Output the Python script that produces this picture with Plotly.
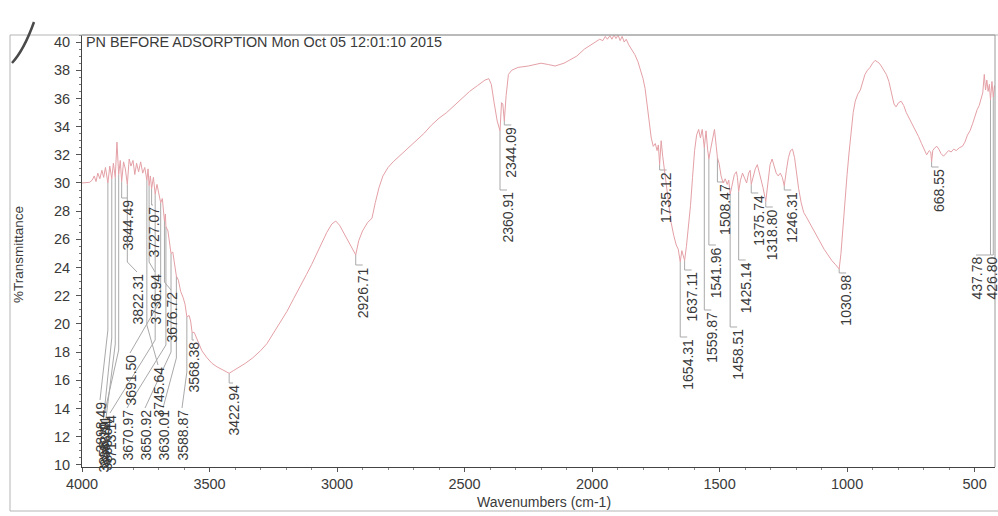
import numpy as np
import plotly.graph_objects as go

# ---- spectrum (wavenumber in cm-1, %T) ----
wavenumber = [
    4000, 3985, 3970, 3960, 3952, 3945, 3938, 3930, 3922, 3915, 3908, 3898.49, 3891, 3883.21, 3877,
    3869.64, 3863, 3856.10, 3850, 3844.49, 3837, 3830, 3822.31, 3815, 3808, 3800, 3793, 3786, 3778,
    3770, 3762, 3754, 3745.64, 3741, 3736.94, 3732, 3727.07, 3720, 3713.14, 3706, 3698, 3691.50, 3685,
    3676.72, 3673, 3670.97, 3663, 3657, 3650.92, 3644, 3636, 3630.01, 3622, 3613, 3604, 3596, 3588.87,
    3580, 3574, 3568.38, 3560, 3545, 3530, 3510, 3490, 3470, 3450, 3435, 3422.94, 3405, 3385, 3360,
    3330, 3300, 3275, 3250, 3225, 3196, 3170, 3145, 3120, 3100, 3080, 3060, 3040, 3020, 3005, 2990,
    2970, 2950, 2935, 2926.71, 2915, 2900, 2880, 2863, 2850, 2835, 2820, 2800, 2780, 2750, 2720, 2690,
    2660, 2630, 2600, 2570, 2540, 2510, 2480, 2450, 2420, 2405, 2395, 2385, 2372, 2360.91, 2355, 2350,
    2344.09, 2337, 2328, 2315, 2290, 2250, 2200, 2170, 2145, 2110, 2080, 2060, 2030, 2005, 1985, 1970,
    1958, 1948, 1940, 1930, 1922, 1914, 1906, 1898, 1890, 1882, 1874, 1866, 1856, 1845, 1832, 1820,
    1810, 1800, 1792, 1784, 1776, 1768, 1760, 1752, 1745, 1740, 1735.12, 1729, 1723, 1716, 1708, 1700,
    1690, 1680, 1670, 1662, 1654.31, 1648, 1642, 1637.11, 1630, 1622, 1614, 1606, 1598, 1590, 1582,
    1575, 1568, 1559.87, 1553, 1547, 1541.96, 1535, 1528, 1520, 1513, 1508.47, 1502, 1494, 1486, 1478,
    1470, 1464, 1458.51, 1450, 1442, 1434, 1430, 1425.14, 1418, 1410, 1402, 1394, 1386, 1380, 1375.74,
    1368, 1360, 1352, 1345, 1338, 1330, 1318.80, 1310, 1302, 1294, 1286, 1278, 1270, 1262, 1254,
    1246.31, 1238, 1230, 1222, 1214, 1206, 1198, 1190, 1180, 1170, 1160, 1148, 1135, 1120, 1105, 1090,
    1075, 1060, 1045, 1036, 1030.98, 1024, 1016, 1008, 1000, 992, 984, 976, 968, 958, 948, 940, 930,
    920, 910, 900, 890, 882, 874, 866, 856, 846, 836, 826, 816, 808, 798, 788, 778, 768, 756, 744, 732,
    720, 708, 698, 688, 678, 672, 668.55, 664, 656, 648, 640, 632, 622, 612, 602, 592, 582, 572, 560,
    548, 538, 528, 518, 508, 498, 490, 482, 474, 468, 462, 457, 452, 447, 442, 437.78, 432, 426.80,
    422, 420,
]
transmittance = [
    30.0, 30.0, 30.05, 30.2, 30.5, 30.1, 30.7, 30.3, 30.9, 30.4, 31.1, 30.0, 31.2, 30.3, 31.4,
    30.4, 32.9, 30.6, 31.6, 30.1, 31.5, 31.0, 29.9, 31.7, 31.2, 31.6, 30.6, 31.4, 30.8,
    31.5, 30.7, 31.1, 30.2, 31.0, 29.8, 30.5, 29.6, 30.4, 29.2, 29.9, 29.3, 28.6, 28.9,
    27.3, 27.8, 26.9, 26.6, 25.9, 25.0, 25.1, 24.2, 23.4, 23.1, 22.3, 21.9, 21.4, 20.5,
    20.6, 20.2, 19.4, 19.4, 18.7, 18.1, 17.6, 17.2, 16.95, 16.75, 16.6, 16.5, 16.7, 16.9, 17.2,
    17.6, 18.1, 18.6, 19.3, 20.0, 20.9, 21.8, 22.7, 23.5, 24.2, 25.0, 25.8, 26.5, 27.1, 27.3, 27.0,
    26.3, 25.6, 25.1, 24.9, 25.9, 26.6, 27.2, 27.5, 28.6, 29.7, 30.5, 31.1, 31.5, 32.0, 32.5, 33.0,
    33.5, 34.1, 34.6, 35.0, 35.5, 36.0, 36.5, 36.9, 37.3, 37.4, 37.0, 35.8, 34.4, 33.7, 35.7, 35.6,
    34.4, 36.2, 37.7, 38.0, 38.2, 38.3, 38.5, 38.4, 38.3, 38.5, 38.8, 39.0, 39.5, 39.8, 40.0, 40.2,
    40.1, 40.4, 40.2, 40.45, 40.2, 40.5, 40.25, 40.5, 40.1, 40.4, 40.0, 40.2, 39.8, 39.5, 39.1, 38.6,
    38.0, 37.4, 36.7, 35.6, 34.3, 33.2, 32.6, 32.8, 32.3, 32.7, 31.3, 33.0, 31.9, 30.9, 29.6, 28.4,
    27.2, 26.3, 25.6, 25.3, 24.4, 25.2, 24.9, 24.5, 25.5, 26.9, 28.4, 30.4, 32.3, 33.4, 33.8,
    33.2, 33.8, 32.5, 33.7, 32.4, 31.7, 32.4, 33.1, 33.8, 32.6, 31.8, 31.4, 30.5, 30.0, 30.3,
    29.9, 30.2, 29.2, 30.0, 30.6, 30.8, 30.4, 29.4, 30.2, 30.7, 30.3, 30.0, 30.7, 30.9, 29.9,
    30.5, 31.0, 31.3, 30.8, 30.1, 29.7, 28.7, 30.0, 31.3, 31.7, 31.2, 30.7, 30.5, 30.7, 30.4,
    29.8, 30.9, 31.8, 32.3, 32.4, 31.8, 30.6, 29.6, 28.6, 27.9, 27.6, 27.2, 26.8, 26.3, 25.8, 25.3,
    24.9, 24.5, 24.2, 24.0, 23.9, 25.0, 27.0, 29.0, 30.6, 32.2, 33.8, 35.0, 35.8, 36.3, 36.6, 37.1, 37.7,
    38.0, 38.2, 38.5, 38.7, 38.6, 38.5, 38.3, 38.0, 37.7, 37.2, 36.5, 35.6, 35.4, 35.7, 35.8, 35.5, 35.0, 34.6, 34.2, 33.8,
    33.3, 32.8, 32.4, 32.0, 32.3, 32.2, 31.5, 32.3, 32.5, 32.6, 32.4, 32.1, 31.9, 32.1, 32.3, 32.2, 32.4, 32.3, 32.5,
    32.6, 32.9, 33.4, 33.7, 34.2, 34.8, 35.2, 35.5, 36.1, 36.4, 37.7, 36.6, 37.3, 36.5, 37.0, 35.9, 37.2, 36.1,
    36.9, 36.7,
]

# ---- peak picks ----
peak_labels = [
    "3898.49", "3883.21", "3869.64", "3856.10", "3844.49", "3822.31", "3745.64", "3736.94",
    "3727.07", "3713.14", "3691.50", "3676.72", "3670.97", "3650.92", "3630.01", "3588.87",
    "3568.38", "3422.94", "2926.71", "2360.91", "2344.09", "1735.12", "1654.31", "1637.11",
    "1559.87", "1541.96", "1508.47", "1458.51", "1425.14", "1375.74", "1318.80", "1246.31",
    "1030.98", "668.55", "437.78", "426.80",
]

# ---- frame geometry (pixels) ----
W, H = 998, 516
ML, MR, MT, MB = 82, 3, 35, 49
PW, PH = W - ML - MR, H - MT - MB
X_RANGE = [4000, 420]
Y_RANGE = [9.85, 40.5]


def px_to_wn(px):
    return X_RANGE[0] + (px - ML) / PW * (X_RANGE[1] - X_RANGE[0])


def wn_to_px(wn):
    return ML + (wn - X_RANGE[0]) / (X_RANGE[1] - X_RANGE[0]) * PW


def py_to_t(py):
    return Y_RANGE[0] + (MT + PH - py) / PH * (Y_RANGE[1] - Y_RANGE[0])


def t_to_py(t):
    return MT + PH - (t - Y_RANGE[0]) / (Y_RANGE[1] - Y_RANGE[0]) * PH


def px_paper(px):
    return (px - ML) / PW


def py_paper(py):
    return (MT + PH - py) / PH


# label placement: label centre x (px, None = just right of the pick line),
# label top y (px), bend y of the leader (px, None = straight drop)
label_place = {
    "3898.49": (100, 400, 330), "3883.21": (104, 414, 338), "3869.64": (106, 418, 344),
    "3856.10": (103, 420, 350), "3844.49": (127, 198, None), "3822.31": (137, 272, 262),
    "3745.64": (158, 365, 325), "3736.94": (155, 272, 262), "3727.07": (153, 205, None),
    "3713.14": (110, 413, 340), "3691.50": (130, 353, 300), "3676.72": (171, 290, 282),
    "3670.97": (127, 408, 345), "3650.92": (145, 408, 352), "3630.01": (163, 408, 358),
    "3588.87": (182, 408, 372), "3568.38": (194, 340, None), "3422.94": (233, 383, None),
    "2926.71": (None, 265, None), "2360.91": (None, 190, None), "2344.09": (None, 122, None),
    "1735.12": (None, 170, None), "1654.31": (None, 337, None), "1637.11": (None, 270, None),
    "1559.87": (None, 310, None), "1541.96": (None, 245, None), "1508.47": (None, 182, None),
    "1458.51": (None, 327, None), "1425.14": (None, 260, None), "1375.74": (None, 193, None),
    "1318.80": (None, 207, None), "1246.31": (None, 190, None), "1030.98": (None, 268, None),
    "668.55": (None, 167, None), "437.78": (976, 255, None), "426.80": (991, 255, None),
}

FONT = "Liberation Sans, Arial, sans-serif"
TXT = "#3a3a3a"

wn_arr = np.array(wavenumber, dtype=float)
t_arr = np.array(transmittance, dtype=float)

fig = go.Figure()

# leader lines from each pick down to its label
lx, ly, annots = [], [], []
for lab in peak_labels:
    wn = float(lab)
    t_peak = float(np.interp(wn, wn_arr[::-1], t_arr[::-1]))
    cx, top, bend = label_place[lab]
    peak_px = wn_to_px(wn)
    if cx is None:
        cx = peak_px + 7
    top = max(top, t_to_py(t_peak) + 4)
    lab_wn = px_to_wn(min(cx, ML + PW))
    t_top = py_to_t(top)
    if bend is None:
        lx += [wn, wn, lab_wn, None]
        ly += [t_peak, t_top, t_top, None]
    else:
        lx += [wn, wn, lab_wn, None]
        ly += [t_peak, py_to_t(bend), t_top, None]
    annots.append(dict(
        x=px_paper(cx), y=py_paper(top + 1), xref="paper", yref="paper", text=lab,
        showarrow=False, textangle=-90, xanchor="center", yanchor="top", borderpad=0,
        font=dict(family=FONT, size=14, color=TXT),
    ))

fig.add_trace(go.Scatter(
    x=lx, y=ly, mode="lines", line=dict(color="#a9a9a9", width=1),
    hoverinfo="skip", showlegend=False, cliponaxis=False,
))

fig.add_trace(go.Scatter(
    x=wavenumber, y=transmittance, mode="lines",
    line=dict(color="rgb(228,160,166)", width=1),
    showlegend=False, hoverinfo="x+y",
))

# header, axis titles
annots.append(dict(
    x=px_paper(84), y=py_paper(42), xref="paper", yref="paper",
    text="PN BEFORE ADSORPTION Mon Oct 05 12:01:10 2015", showarrow=False,
    xanchor="left", yanchor="middle", font=dict(family=FONT, size=14.4, color=TXT),
))
annots.append(dict(
    x=px_paper(18), y=py_paper(255), xref="paper", yref="paper", text="%Transmittance",
    showarrow=False, textangle=-90, xanchor="center", yanchor="middle",
    font=dict(family=FONT, size=13.5, color=TXT),
))
annots.append(dict(
    x=px_paper(544), y=py_paper(502), xref="paper", yref="paper", text="Wavenumbers (cm-1)",
    showarrow=False, xanchor="center", yanchor="middle",
    font=dict(family=FONT, size=14, color=TXT),
))

shapes = [
    # outer page frame
    dict(type="rect", xref="paper", yref="paper", x0=px_paper(10), x1=px_paper(1012),
         y0=py_paper(511), y1=py_paper(35), line=dict(color="#b5b5b5", width=1)),
    # top and right edges of the plot box
    dict(type="line", xref="paper", yref="paper", x0=0, x1=1, y0=1, y1=1,
         line=dict(color="#9a9a9a", width=1)),
    dict(type="line", xref="paper", yref="paper", x0=1, x1=1, y0=0, y1=1,
         line=dict(color="#9a9a9a", width=1)),
    # pen stroke at the corner
    dict(type="path", xref="paper", yref="paper",
         path=f"M {px_paper(12)} {py_paper(63)} Q {px_paper(24)} {py_paper(50)} {px_paper(34)} {py_paper(22)}",
         line=dict(color="#4a4a4a", width=2.5)),
]

fig.update_layout(
    width=W, height=H,
    margin=dict(l=ML, r=MR, t=MT, b=MB, pad=0),
    paper_bgcolor="white", plot_bgcolor="white",
    annotations=annots, shapes=shapes, showlegend=False,
    xaxis=dict(
        range=X_RANGE, showgrid=False, zeroline=False, showline=True, linecolor="#444",
        linewidth=1, ticks="outside", ticklen=4, tickcolor="#555", tick0=0, dtick=500,
        tickfont=dict(family=FONT, size=14.5, color=TXT), ticklabelstandoff=0,
        minor=dict(ticks="outside", ticklen=2, dtick=100, tickcolor="#888"),
    ),
    yaxis=dict(
        range=Y_RANGE, showgrid=False, zeroline=False, showline=True, linecolor="#444",
        linewidth=1, ticks="outside", ticklen=5, tickcolor="#555", tick0=0, dtick=2,
        tickfont=dict(family=FONT, size=14.5, color=TXT), ticklabelstandoff=3,
        minor=dict(ticks="outside", ticklen=2.5, dtick=0.5, tickcolor="#777"),
    ),
)

fig.write_html("out.html")
